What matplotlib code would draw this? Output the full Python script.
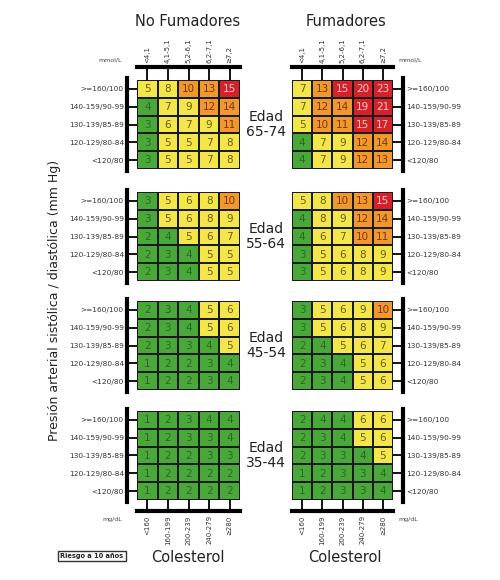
"""Tabla de riesgo cardiovascular a 10 años"""

import matplotlib
matplotlib.use("Agg")
import matplotlib.pyplot as plt
import numpy as np
from matplotlib.colors import ListedColormap, BoundaryNorm

W, H = 500, 580

groups = ["No Fumadores", "Fumadores"]
ages = ["Edad\n65-74", "Edad\n55-64", "Edad\n45-54", "Edad\n35-44"]
bp_labels = [">=160/100", "140-159/90-99", "130-139/85-89", "120-129/80-84", "<120/80"]
mmol_labels = ["<4,1", "4,1-5,1", "5,2-6,1", "6,2-7,1", "≥7,2"]
mgdl_labels = ["<160", "160-199", "200-239", "240-279", "≥280"]

no_fum = [
    [[5, 8, 10, 13, 15], [4, 7, 9, 12, 14], [3, 6, 7, 9, 11], [3, 5, 5, 7, 8], [3, 5, 5, 7, 8]],
    [[3, 5, 6, 8, 10], [3, 5, 6, 8, 9], [2, 4, 5, 6, 7], [2, 3, 4, 5, 5], [2, 3, 4, 5, 5]],
    [[2, 3, 4, 5, 6], [2, 3, 4, 5, 6], [2, 3, 3, 4, 5], [1, 2, 2, 3, 4], [1, 2, 2, 3, 4]],
    [[1, 2, 3, 4, 4], [1, 2, 3, 3, 4], [1, 2, 2, 3, 3], [1, 2, 2, 2, 2], [1, 2, 2, 2, 2]],
]
fum = [
    [[7, 13, 15, 20, 23], [7, 12, 14, 19, 21], [5, 10, 11, 15, 17], [4, 7, 9, 12, 14], [4, 7, 9, 12, 13]],
    [[5, 8, 10, 13, 15], [4, 8, 9, 12, 14], [4, 6, 7, 10, 11], [3, 5, 6, 8, 9], [3, 5, 6, 8, 9]],
    [[3, 5, 6, 9, 10], [3, 5, 6, 8, 9], [2, 4, 5, 6, 7], [2, 3, 4, 5, 6], [2, 3, 4, 5, 6]],
    [[2, 4, 4, 6, 6], [2, 3, 4, 5, 6], [2, 3, 3, 4, 5], [1, 2, 3, 3, 4], [1, 2, 3, 3, 4]],
]

risk_bounds = [0, 5, 10, 15, 100]
cell_colors = ["#4aa83a", "#f3e64a", "#f0982c", "#d5222a"]
text_colors = ["#2a6a22", "#6a5a14", "#7a3510", "#f8c8c8"]

cmap = ListedColormap(cell_colors)
norm = BoundaryNorm(risk_bounds, cmap.N)


def px(x0, y0, x1, y1):
    return [x0 / W, 1 - y1 / H, (x1 - x0) / W, (y1 - y0) / H]


def draw_grid(ax, data, side, top, bottom):
    vals = np.array(data)
    ax.pcolormesh(np.arange(6), np.arange(6), vals, cmap=cmap, norm=norm,
                  edgecolors="#1a1a1a", linewidth=1.2)
    ax.set_xlim(0, 5)
    ax.set_ylim(5, 0)
    for r in range(5):
        for c in range(5):
            v = vals[r, c]
            k = np.searchsorted(risk_bounds, v, side="right") - 1
            ax.text(c + 0.5, r + 0.52, str(v), ha="center", va="center",
                    fontsize=7.5, color=text_colors[k])

    for s in ax.spines.values():
        s.set_visible(False)

    # eje de presión arterial (barra gruesa con marcas)
    sp = ax.spines[side]
    sp.set_visible(True)
    sp.set_position(("outward", 7.5))
    sp.set_linewidth(3)
    sp.set_bounds(-0.1, 5.1)
    ax.set_yticks(np.arange(5) + 0.5)
    ax.set_yticklabels(bp_labels, fontsize=5.3, color="#333333")
    if side == "left":
        ax.yaxis.tick_left()
    else:
        ax.yaxis.tick_right()
    ax.tick_params(axis="y", direction="in", length=7.5, width=1.3, pad=2)

    ax.set_xticks([])
    if top:
        sp = ax.spines["top"]
        sp.set_visible(True)
        sp.set_position(("outward", 9.5))
        sp.set_linewidth(3)
        ax.xaxis.tick_top()
        ax.set_xticks(np.arange(5) + 0.5)
        ax.set_xticklabels(mmol_labels, rotation=90, fontsize=5, color="#333333")
        ax.tick_params(axis="x", direction="in", length=9.5, width=1.3, pad=3)
    if bottom:
        sp = ax.spines["bottom"]
        sp.set_visible(True)
        sp.set_position(("outward", 8))
        sp.set_linewidth(3)
        ax.xaxis.tick_bottom()
        ax.set_xticks(np.arange(5) + 0.5)
        ax.set_xticklabels(mgdl_labels, rotation=90, fontsize=5, color="#333333")
        ax.tick_params(axis="x", direction="in", length=8, width=1.3, pad=3)


fig = plt.figure(figsize=(W / 100, H / 100), dpi=100)
plt.rcParams["font.family"] = ["DejaVu Sans"]

rows_y = [(80, 169), (192, 281), (301, 390), (411, 500)]
cols_x = [(137, 240), (292, 393)]

for j, (x0, x1) in enumerate(cols_x):
    tables = no_fum if j == 0 else fum
    for i, (y0, y1) in enumerate(rows_y):
        ax = fig.add_axes(px(x0, y0, x1, y1))
        draw_grid(ax, tables[i], "left" if j == 0 else "right", i == 0, i == 3)

for i, (y0, y1) in enumerate(rows_y):
    fig.text(266 / W, 1 - (y0 + y1) / 2 / H, ages[i], ha="center", va="center",
             fontsize=10, color="#222222", linespacing=1.1)

fig.text(188 / W, 1 - 22 / H, groups[0], ha="center", va="center", fontsize=10.5, color="#222222")
fig.text(346 / W, 1 - 22 / H, groups[1], ha="center", va="center", fontsize=10.5, color="#222222")

fig.text(122 / W, 1 - 60 / H, "mmol/L", ha="right", va="center", fontsize=4.5, color="#444444")
fig.text(398 / W, 1 - 60 / H, "mmol/L", ha="left", va="center", fontsize=4.5, color="#444444")
fig.text(122 / W, 1 - 520 / H, "mg/dL", ha="right", va="center", fontsize=4.5, color="#444444")
fig.text(398 / W, 1 - 520 / H, "mg/dL", ha="left", va="center", fontsize=4.5, color="#444444")

fig.text(188 / W, 1 - 557 / H, "Colesterol", ha="center", va="center", fontsize=10.5, color="#222222")
fig.text(345 / W, 1 - 557 / H, "Colesterol", ha="center", va="center", fontsize=10.5, color="#222222")

fig.text(55 / W, 1 - 300 / H, "Presión arterial sistólica / diastólica (mm Hg)", rotation=90,
         ha="center", va="center", fontsize=9, color="#222222")

fig.text(92 / W, 1 - 556 / H, "Riesgo a 10 años", ha="center", va="center", fontsize=4.8,
         fontweight="bold", color="#222222",
         bbox=dict(boxstyle="square,pad=0.35", fc="white", ec="#333333", lw=1))

plt.savefig("out.png", dpi=100)
